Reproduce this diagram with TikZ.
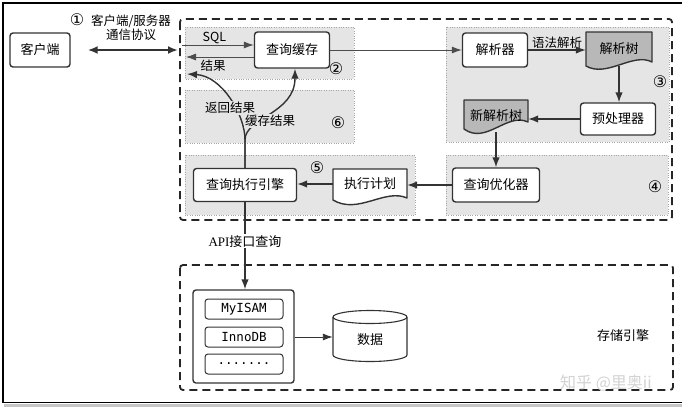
\documentclass[tikz,border=0pt]{standalone}
\usepackage{fontspec}
\setmainfont{Noto Sans CJK SC}
\newfontfamily\serifpart{Liberation Serif}
\newfontfamily\enginefont{DejaVu Sans Mono}
\newfontfamily\circfont{DejaVu Sans}
\usetikzlibrary{arrows.meta}
\definecolor{zonegray}{gray}{0.9}
\definecolor{treegray}{gray}{0.72}
\definecolor{linegray}{gray}{0.2}
\tikzset{
  box/.style={draw=linegray, line width=1.4pt, rounded corners=3pt, fill=white, inner sep=0pt,
    minimum height=34pt, font=\fontsize{13}{14}\selectfont},
  doctext/.style={inner sep=0pt, font=\fontsize{13}{14}\selectfont},
  doc/.style={draw=linegray, line width=1.4pt, line join=round},
  zone/.style={draw=gray!70, dotted, fill=zonegray},
  stage/.style={draw=black!85, line width=1.8pt, dash pattern=on 8pt off 5pt, rounded corners=3pt},
  tag/.style={inner sep=1pt, font=\fontsize{12.5}{14}\selectfont},
  num/.style={inner sep=0pt, font=\circfont\fontsize{16}{16}\selectfont},
  flow/.style={draw=linegray, line width=1.4pt, -{Latex[length=10pt,width=7.5pt]}},
  thin flow/.style={draw=gray!60!black, line width=0.8pt, -{Latex[length=10pt,width=7pt]}},
  slim flow/.style={draw=linegray, line width=0.9pt, -{Latex[length=10pt,width=7pt]}},
  engine/.style={draw=linegray, line width=1pt, rounded corners=3pt, minimum width=78pt,
    minimum height=20pt, inner sep=0pt, font=\enginefont\fontsize{12.5}{14}\selectfont},
}

\begin{document}
\begin{tikzpicture}[x=1pt, y=-1pt]
    \useasboundingbox (0,0) rectangle (682,413);
    \draw [gray!45, line width=3pt] (4,405.5) -- (682,405.5);
    \draw [line width=1.2pt] (682,3) -- (3,3) -- (3,402.5) -- (682,402.5);

    \draw [zone] (185,27) rectangle (354,79);
    \draw [zone] (185,90) rectangle (354,143);
    \draw [zone] (185,155) rectangle (415,215);
    \draw [zone] (446,27) rectangle (669,142);
    \draw [zone] (446,155) rectangle (668,215);
    \draw [stage] (180,19) rectangle (672,220);
    \draw [stage] (180,265) rectangle (673,390);

    \node [box, minimum width=60pt] (client) at (40,50) {客户端};
    \node [box, minimum width=75pt, minimum height=36pt] (cache) at (292,50) {查询缓存};
    \node [box, minimum width=65pt] (parser) at (495,50) {解析器};
    \node [box, minimum width=75pt, minimum height=32pt] (prep) at (618,119) {预处理器};
    \node [box, minimum width=87pt] (optim) at (496,185) {查询优化器};
    \node [box, minimum width=103pt, minimum height=33pt] (exec) at (245,185) {查询执行引擎};

    \draw [doc, fill=treegray] (586,32) -- (652,32) -- (652,62)
        .. controls (633,52) and (607,78) .. (586,66) -- cycle;
    \node [doctext, minimum width=66pt, minimum height=34pt] (tree) at (619,49) {解析树};
    \draw [doc, fill=treegray] (464,100) -- (528,100) -- (528,122)
        .. controls (507,112) and (486,145) .. (464,129) -- cycle;
    \node [doctext, minimum width=64pt, minimum height=32pt] (newtree) at (496,116) {新解析树};
    \draw [doc, fill=white] (333,169) -- (407,169) -- (407,198)
        .. controls (385,188) and (358,215) .. (333,200) -- cycle;
    \node [doctext, minimum width=74pt, minimum height=30pt] (plan) at (370,184) {执行计划};

    \node [num] (n1) at (77,20) {①};
    \node [tag, align=center] (protocol) at (131,28) {客户端/服务器\\通信协议};
    \node [num] (n2) at (336,69) {②};
    \node [num] (n3) at (660,82) {③};
    \node [num] (n4) at (655,187) {④};
    \node [num] (n5) at (317,168) {⑤};
    \node [num] (n6) at (338,123) {⑥};

    \coordinate (gate) at (178,50);
    \coordinate (sqlin) at (182,45);
    \coordinate (resout) at (186,57);
    \coordinate (back) at (187,74);
    \draw [flow, {Latex[length=10pt,width=8pt]}-{Latex[length=10pt,width=8pt]}, line width=2.2pt, shorten <=17pt]
        (client) -- (gate);
    \draw [thin flow] (sqlin) -- node [tag, above, pos=0.45] (sqltag) {SQL} (sqlin -| cache.west);
    \draw [thin flow] (resout -| cache.west) -- node [tag, below=2pt, pos=0.6] (restag) {结果} (resout);
    \draw [thin flow] (cache) -- (parser);
    \draw [flow] (parser.east) -- node [tag, above] (syntag) {语法解析} (parser.east -| tree.west);
    \draw [flow] (tree.south) -- (tree.south |- prep.north);
    \draw [flow] (prep.west) -- (prep.west -| newtree.east);
    \draw [flow] (newtree) -- (optim);
    \draw [flow] (optim.west) -- (optim.west -| plan.east);
    \draw [flow] (plan.west) -- (plan.west -| exec.east);

    \draw [flow] (exec.north) -- ++(0,-28) .. controls +(0,-25) and (222,76) .. (back);
    \draw [flow] (exec.north) -- ++(0,-28)
        .. controls +(0,-22) and +(0,45) .. ([xshift=3pt]cache.south);
    \node [tag, fill=zonegray] (backtag) at (230,108) {返回结果};
    \node [tag, fill=zonegray] (cachetag) at (270,121) {缓存结果};

    \node [draw=linegray, line width=1.4pt, rounded corners=3pt, minimum width=101pt,
        minimum height=93pt] (engines) at (243.5,336.5) {};
    \node [engine] (myisam) at (244,309) {MyISAM};
    \node [engine] (innodb) at (244,337) {InnoDB};
    \node [engine] (more) at (244,364) {.......};
    \draw [flow] (exec.south) -- node [tag, fill=white, pos=0.45, font=\fontsize{13}{14}\selectfont] (apitag)
        {{\serifpart API}接口查询} (exec.south |- engines.north);

    \draw [doc, line width=1.1pt] (333,317) -- (333,355)
        arc [start angle=180, end angle=0, x radius=37, y radius=6.5] -- (407,317);
    \draw [doc, line width=1.1pt] (370,317) ellipse [x radius=37, y radius=6.5];
    \node [doctext, minimum width=74pt, minimum height=40pt] (data) at (370,340) {数据};
    \draw [slim flow] (innodb -| engines.east) -- (innodb -| data.west);

    \node [tag, font=\fontsize{13}{14}\selectfont] (storetag) at (623,336) {存储引擎};
    \node [text=gray!35, font=\fontsize{16}{18}\selectfont] (mark) at (606,383) {知乎 @里奥ii};
\end{tikzpicture}
\end{document}
